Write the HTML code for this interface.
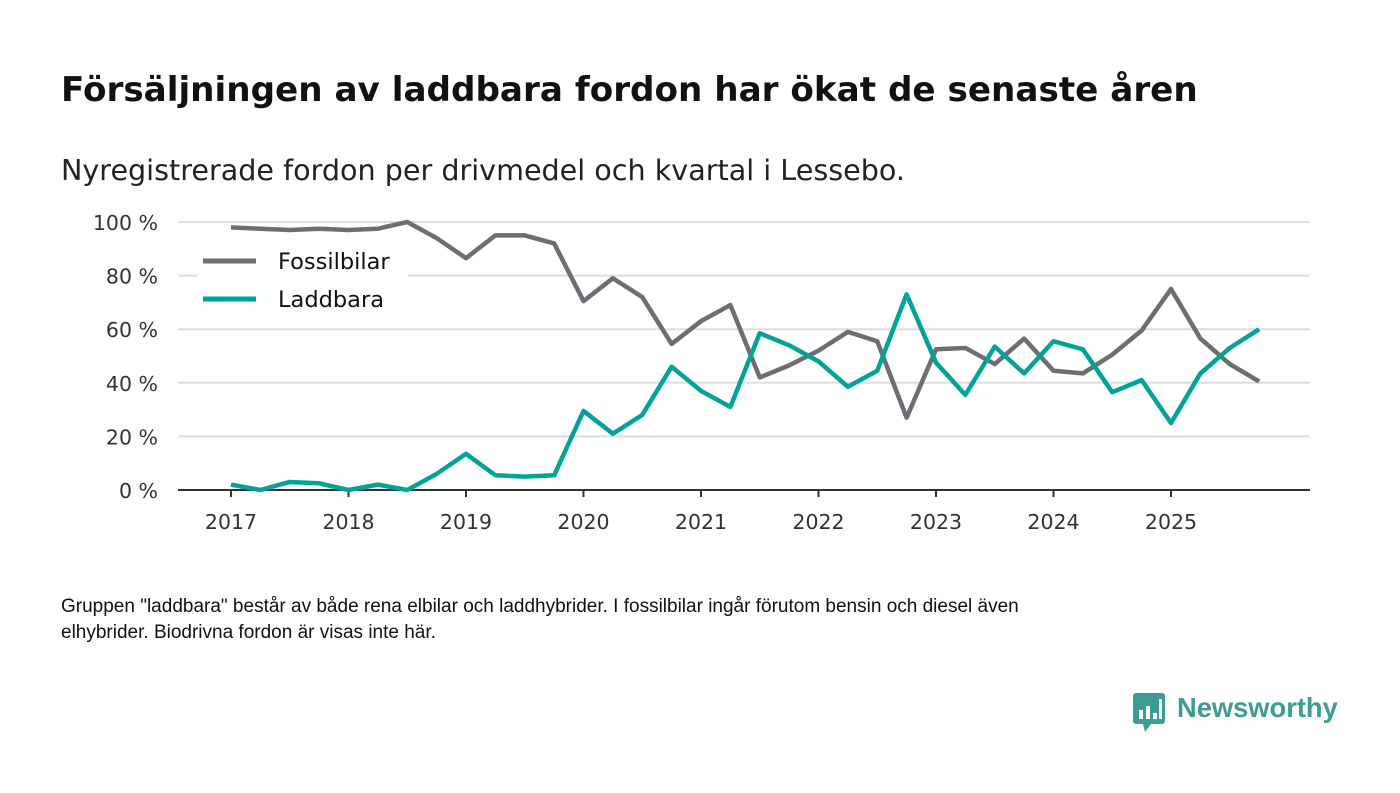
<!DOCTYPE html>
<html><head><meta charset="utf-8"><style>
body{margin:0;width:1400px;height:793px;background:#fff;font-family:"DejaVu Sans","Liberation Sans",sans-serif;overflow:hidden;position:relative}
.t{position:absolute;white-space:nowrap}
</style></head><body>
<div class="t" style="left:61px;top:70px;font-size:34.2px;font-weight:bold;color:#111">Försäljningen av laddbara fordon har ökat de senaste åren</div>
<div class="t" style="left:61px;top:153px;font-size:28.6px;color:#222">Nyregistrerade fordon per drivmedel och kvartal i Lessebo.</div>
<svg id="chart" width="1400" height="560" style="position:absolute;left:0;top:0;font-family:'DejaVu Sans',sans-serif"></svg>
<div class="t" style="left:61px;top:594px;font-size:19px;line-height:26px;color:#111;font-family:'Liberation Sans',sans-serif">Gruppen "laddbara" består av både rena elbilar och laddhybrider. I fossilbilar ingår förutom bensin och diesel även<br>elhybrider. Biodrivna fordon är visas inte här.</div>
<div style="position:absolute;left:1133px;top:693px;font-family:'Liberation Sans',sans-serif">
<svg width="34" height="40"><rect x="0" y="0" width="32" height="31" rx="3" fill="#3d9c94"/><polygon points="10,31 18,31 12,39" fill="#3d9c94"/><rect x="6" y="17" width="4" height="9" fill="#fff"/><rect x="13" y="13" width="4" height="13" fill="#fff"/><rect x="20" y="20" width="4" height="6" fill="#fff"/><rect x="26" y="6" width="3" height="20" fill="#fff"/></svg>
<span class="t" style="left:44px;top:-1px;font-size:27.3px;font-weight:bold;color:#3d9c94">Newsworthy</span></div>
<script>
const years=["2017","2018","2019","2020","2021","2022","2023","2024","2025"];
const yTicks=[0,20,40,60,80,100];
const fossil=[98,97.5,97,97.5,97,97.5,100,94,86.5,95,95,92,70.5,79,72,54.5,63,69,42,46.5,52,59,55.5,27,52.5,53,47,56.5,44.5,43.5,50.5,59.5,75,56.5,47,40.5];
const laddbara=[2,0,3,2.5,0,2,0,6,13.5,5.5,5,5.5,29.5,21,28,46,37,31,58.5,54,48,38.5,44.5,73,47.5,35.5,53.5,43.5,55.5,52.5,36.5,41,25,43.5,53,60];
const svg=document.getElementById('chart');const NS='http://www.w3.org/2000/svg';
const x=i=>231+i*117.5/4, y=v=>490-v*2.68;
function mk(t,a){const e=document.createElementNS(NS,t);for(const k in a)e.setAttribute(k,a[k]);svg.appendChild(e);return e;}
yTicks.forEach(v=>{if(v>0){const g=mk('line',{x1:178,x2:1310,y1:y(v),y2:y(v),stroke:'#ddd','stroke-width':2});

}
const t=mk('text',{x:158,y:y(v)+8,'text-anchor':'end','font-size':20.5,fill:'#333'});t.textContent=v+' %';

});
const ax=mk('line',{x1:178,x2:1310,y1:490,y2:490,stroke:'#333','stroke-width':2});


years.forEach((yr,i)=>{const xx=x(i*4);const tk=mk('line',{x1:xx,x2:xx,y1:490,y2:497,stroke:'#333','stroke-width':2});


const t=mk('text',{x:xx,y:529,'text-anchor':'middle','font-size':20.5,fill:'#333'});t.textContent=yr;

});
function line(d,c,n){const p=mk('polyline',{points:d.map((v,i)=>x(i)+','+y(v)).join(' '),fill:'none',stroke:c,'stroke-width':4.5,'stroke-linejoin':'round'});

}
const bg=mk('rect',{x:198,y:240,width:210,height:78,fill:'#fff'});


line(fossil,'#6e6d73','fossilbilar-line');
line(laddbara,'#00a398','laddbara-line');
const bg2=mk('rect',{x:198,y:244,width:210,height:64,fill:'#fff','fill-opacity':0.9});


[['Fossilbilar','#6e6d73',261],['Laddbara','#00a398',299]].forEach(([n,c,yy])=>{
const l=mk('line',{x1:203,x2:256,y1:yy,y2:yy,stroke:c,'stroke-width':5});


const t=mk('text',{x:278,y:yy+8,'font-size':22.5,fill:'#111'});t.textContent=n;

});
</script>
</body></html>
